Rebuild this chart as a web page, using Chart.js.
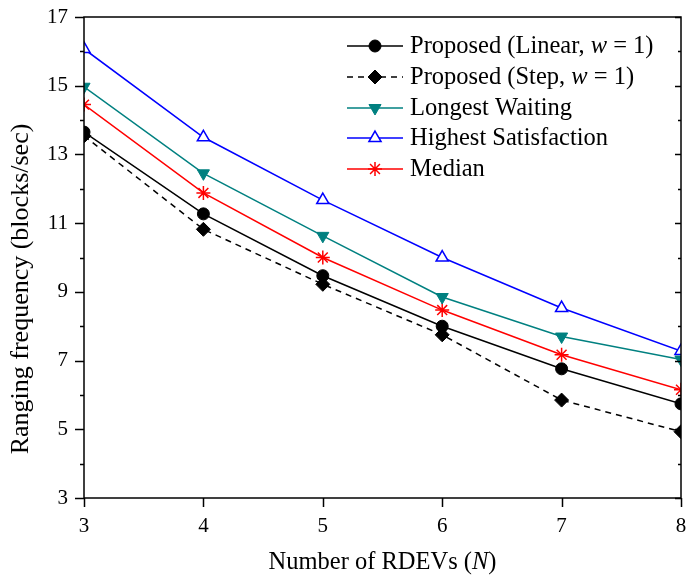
<!DOCTYPE html>
<html>
<head>
<meta charset="utf-8">
<script src="https://cdn.jsdelivr.net/npm/chart.js@4/dist/chart.umd.min.js"></script>
<style>
  html, body { margin: 0; padding: 0; background: #fff; }
  #wrap { width: 688px; height: 581px; }
</style>
</head>
<body>
<div id="wrap"><canvas id="rangingChart" width="688" height="581"></canvas></div>
<script>
// Data
const nValues = [3, 4, 5, 6, 7, 8];
const linearW1 = [13.65, 11.27, 9.47, 8.0, 6.76, 5.74];
const stepW1 = [13.54, 10.82, 9.22, 7.75, 5.85, 4.93];
const longestWaiting = [14.97, 12.45, 10.63, 8.85, 7.7, 7.03];
const highestSatisfaction = [16.07, 13.5, 11.67, 10.0, 8.53, 7.28];
const median = [14.45, 11.88, 10.0, 8.47, 7.17, 6.15];
const yTickLabels = [3, 5, 7, 9, 11, 13, 15, 17];

const serif = '"Liberation Serif", "Times New Roman", serif';
const textSize = 24.5;

function toPoints(values) {
  return values.map((v, i) => ({ x: nValues[i], y: v }));
}

// no extra padding from the tick labels
function noScalePadding(scale) {
  scale.paddingTop = 0;
  scale.paddingBottom = 0;
  scale.paddingLeft = 0;
  scale.paddingRight = 0;
}

// legend entries: [plain text, italic text, plain text]
const legendItems = [
  { parts: ['Proposed (Linear, ', 'w', ' = 1)'], ds: 0 },
  { parts: ['Proposed (Step, ', 'w', ' = 1)'], ds: 1 },
  { parts: ['Longest Waiting'], ds: 2 },
  { parts: ['Highest Satisfaction'], ds: 3 },
  { parts: ['Median'], ds: 4 }
];

// Draws frame, ticks, legend and axis titles
const decorations = {
  id: 'decorations',
  afterDraw(chart) {
    const { ctx, chartArea: a, scales: { x, y } } = chart;
    ctx.save();
    ctx.strokeStyle = '#000';
    ctx.lineWidth = 1.5;
    ctx.strokeRect(a.left, a.top, a.right - a.left, a.bottom - a.top);

    ctx.beginPath();
    for (let v = 3; v <= 17; v++) {
      const py = Math.round(y.getPixelForValue(v)) + 0.5;
      const major = v % 2 === 1;
      ctx.moveTo(a.left - (major ? 9 : 4), py);
      ctx.lineTo(a.left, py);
      ctx.moveTo(a.right, py);
      ctx.lineTo(a.right - (major ? 6 : 3), py);
    }
    nValues.forEach(v => {
      const px = Math.round(x.getPixelForValue(v)) + 0.5;
      ctx.moveTo(px, a.bottom);
      ctx.lineTo(px, a.bottom + 9);
    });
    ctx.stroke();

    // legend
    const lineX0 = 347, lineX1 = 403, markX = 375, textX = 410;
    const rowY = [46, 77, 108, 138, 169];
    ctx.textBaseline = 'middle';
    legendItems.forEach((item, i) => {
      const ds = chart.data.datasets[item.ds];
      const yy = rowY[i];
      ctx.save();
      ctx.strokeStyle = ds.borderColor;
      ctx.lineWidth = ds.borderWidth;
      ctx.setLineDash(ds.borderDash || []);
      ctx.beginPath();
      ctx.moveTo(lineX0, yy);
      ctx.lineTo(lineX1, yy);
      ctx.stroke();
      ctx.setLineDash([]);
      ctx.fillStyle = ds.pointBackgroundColor;
      ctx.strokeStyle = ds.pointBorderColor;
      ctx.lineWidth = ds.pointBorderWidth;
      Chart.helpers.drawPoint(ctx, {
        pointStyle: ds.pointStyle,
        radius: ds.pointRadius,
        rotation: ds.pointRotation || 0,
        borderWidth: ds.pointBorderWidth
      }, markX, yy);
      ctx.restore();

      let tx = textX;
      ctx.fillStyle = '#000';
      item.parts.forEach((p, k) => {
        ctx.font = (k === 1 ? 'italic ' : '') + textSize + 'px ' + serif;
        ctx.fillText(p, tx, yy + 1);
        tx += ctx.measureText(p).width;
      });
    });

    // x-axis title with italic N
    const parts = ['Number of RDEVs (', 'N', ')'];
    const fonts = parts.map((p, k) => (k === 1 ? 'italic ' : '') + textSize + 'px ' + serif);
    let total = 0;
    parts.forEach((p, k) => { ctx.font = fonts[k]; total += ctx.measureText(p).width; });
    let tx = (a.left + a.right) / 2 - total / 2;
    ctx.fillStyle = '#000';
    parts.forEach((p, k) => {
      ctx.font = fonts[k];
      ctx.fillText(p, tx, 563);
      tx += ctx.measureText(p).width;
    });

    // y-axis title
    ctx.save();
    ctx.translate(21, 289);
    ctx.rotate(-Math.PI / 2);
    ctx.textAlign = 'center';
    ctx.font = '26px ' + serif;
    ctx.fillText('Ranging frequency (blocks/sec)', 0, 0);
    ctx.restore();
    ctx.restore();
  }
};

const ctx = document.getElementById('rangingChart').getContext('2d');
new Chart(ctx, {
  type: 'line',
  data: {
    datasets: [
      {
        label: 'Proposed (Linear, w = 1)',
        data: toPoints(linearW1),
        borderColor: '#000000', borderWidth: 1.5,
        pointStyle: 'circle', pointRadius: 6,
        pointBackgroundColor: '#000000', pointBorderColor: '#000000', pointBorderWidth: 1
      },
      {
        label: 'Proposed (Step, w = 1)',
        data: toPoints(stepW1),
        borderColor: '#000000', borderWidth: 1.5, borderDash: [6, 5],
        pointStyle: 'rectRot', pointRadius: 7,
        pointBackgroundColor: '#000000', pointBorderColor: '#000000', pointBorderWidth: 1
      },
      {
        label: 'Longest Waiting',
        data: toPoints(longestWaiting),
        borderColor: '#008080', borderWidth: 1.5,
        pointStyle: 'triangle', pointRotation: 180, pointRadius: 7,
        pointBackgroundColor: '#008080', pointBorderColor: '#008080', pointBorderWidth: 1
      },
      {
        label: 'Highest Satisfaction',
        data: toPoints(highestSatisfaction),
        borderColor: '#0000ff', borderWidth: 1.5,
        pointStyle: 'triangle', pointRadius: 7,
        pointBackgroundColor: '#ffffff', pointBorderColor: '#0000ff', pointBorderWidth: 1.5
      },
      {
        label: 'Median',
        data: toPoints(median),
        borderColor: '#ff0000', borderWidth: 1.5,
        pointStyle: 'star', pointRadius: 7,
        pointBackgroundColor: '#ff0000', pointBorderColor: '#ff0000', pointBorderWidth: 1.5
      }
    ]
  },
  options: {
    responsive: false,
    animation: false,
    layout: { autoPadding: false, padding: { top: 17, right: 7, left: 0, bottom: 0 } },
    plugins: { legend: { display: false }, tooltip: { enabled: false } },
    elements: { line: { tension: 0 } },
    scales: {
      x: {
        type: 'linear',
        min: 3, max: 8,
        grid: { display: false, drawTicks: false },
        border: { display: false },
        ticks: {
          stepSize: 1, padding: 16, color: '#000',
          font: { family: serif, size: 21 }
        },
        afterFit(scale) { scale.height = 83; noScalePadding(scale); }
      },
      y: {
        min: 3, max: 17,
        grid: { display: false, drawTicks: false },
        border: { display: false },
        ticks: {
          stepSize: 1, padding: 16, color: '#000',
          font: { family: serif, size: 21 },
          callback: v => (yTickLabels.includes(v) ? v : '')
        },
        afterFit(scale) { scale.width = 84; noScalePadding(scale); }
      }
    }
  },
  plugins: [decorations]
});
</script>
</body>
</html>
